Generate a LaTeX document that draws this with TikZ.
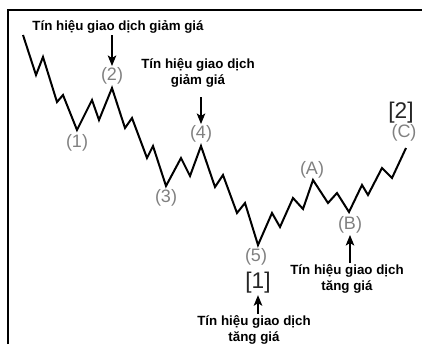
\documentclass[tikz,border=0pt]{standalone}
\usepackage{fontspec}
\setmainfont{Liberation Sans}
\usetikzlibrary{arrows.meta}

\begin{document}
\begin{tikzpicture}[x=0.75pt,y=-0.75pt,>={Stealth[length=8pt,width=6.5pt,inset=2pt]},
  wave/.style={line width=1.5pt,line join=miter},
  num/.style={font=\fontsize{13.5}{13.5}\selectfont,text=black!50,inner sep=1pt},
  big/.style={font=\fontsize{17}{17}\selectfont,text=black!85,inner sep=1pt},
  sig/.style={font=\fontsize{10}{12.5}\selectfont\bfseries,align=center,inner sep=1pt},
  sigarr/.style={->,line width=0.8pt}]
\useasboundingbox (0,0) rectangle (422,344);
% khung
\draw[line width=1.5pt] (8,344) -- (8,10) -- (422,10);
% duong gia
\draw[wave] (23,35) -- (36,75) -- (43,57) -- (57,102) -- (63,95) -- (77,130)
  -- (92,100) -- (99,120) -- (112,88) -- (125,128) -- (132,118) -- (147,158)
  -- (153,146) -- (166,186) -- (181,158) -- (190,176) -- (201,146) -- (215,187)
  -- (223,175) -- (237,213) -- (245,203) -- (258,245) -- (272,213) -- (280,227)
  -- (293,198) -- (303,209) -- (313,180) -- (328,203) -- (337,193) -- (349,212)
  -- (362,185) -- (368,195) -- (382,168) -- (392,178) -- (406,148);
% nhan song
\node[num] (w1) at (77,143) {(1)};
\node[num] (w2) at (112,76) {(2)};
\node[num] (w3) at (166,198) {(3)};
\node[num] (w4) at (201,134) {(4)};
\node[num] (w5) at (256,257) {(5)};
\node[num] (wA) at (312,170) {(A)};
\node[num] (wB) at (350,225) {(B)};
\node[num] (wC) at (404,133) {(C)};
\node[big] (b1) at (258,283) {[1]};
\node[big] (b2) at (401,113) {[2]};
% tin hieu
\node[sig] (s2) at (118,27) {Tín hiệu giao dịch giảm giá};
\node[sig] (s4) at (198,73) {Tín hiệu giao dịch\\giảm giá};
\node[sig] (s5) at (254,330) {Tín hiệu giao dịch\\tăng giá};
\node[sig] (sB) at (347,279) {Tín hiệu giao dịch\\tăng giá};
\draw[sigarr] (s2.south -| w2) -- (w2.north);
\draw[sigarr,shorten <=6pt] (s4.south -| w4) -- (w4.north);
\draw[sigarr] (s5.north -| b1) -- (b1.south);
\draw[sigarr] (sB.north -| wB) -- (wB.south);
\end{tikzpicture}
\end{document}
